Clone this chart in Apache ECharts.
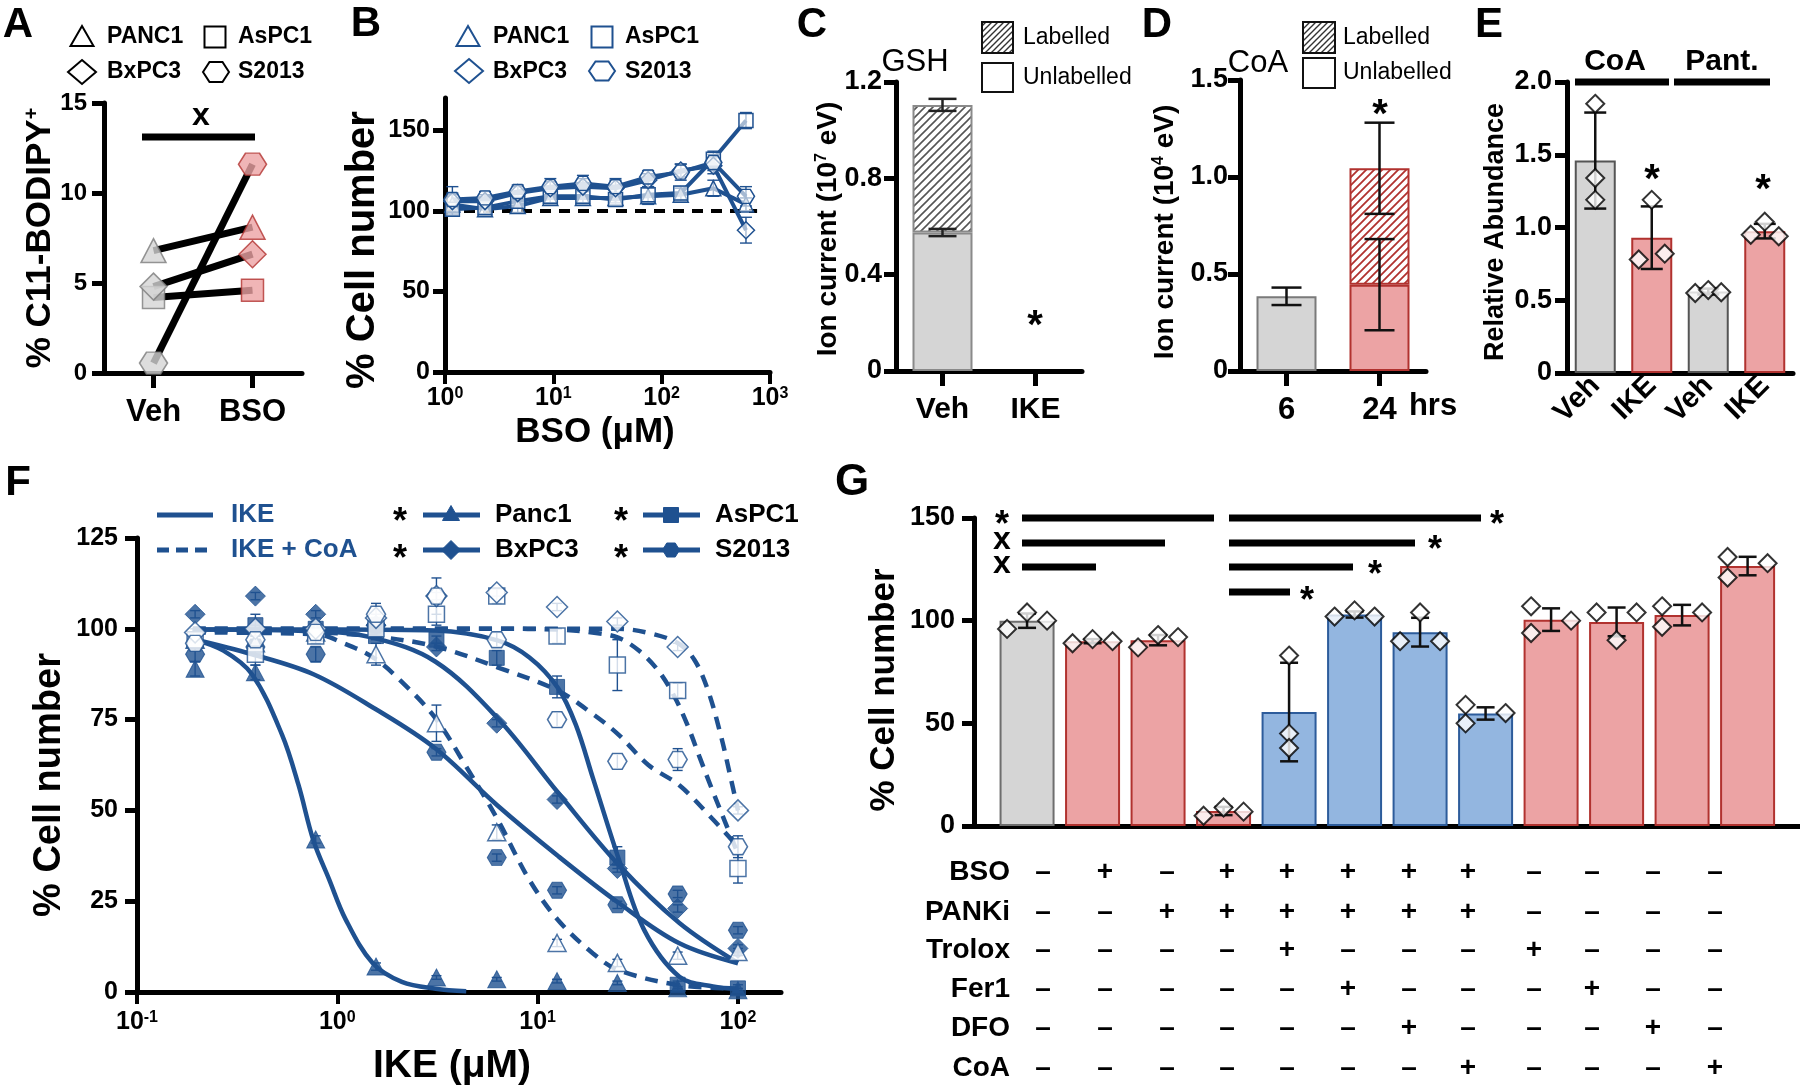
<!DOCTYPE html>
<html><head><meta charset="utf-8">
<script src="https://cdn.jsdelivr.net/npm/echarts@6/dist/echarts.min.js"></script>
<style>html,body{margin:0;padding:0;background:#fff}#c{width:1800px;height:1088px}</style>
</head><body><div id="c"></div>
<script>
// ================= DATA =================
// Panel A: % C11-BODIPY+
const aConditions = ['Veh', 'BSO'];
const aPANC1 = [6.8, 8.1];
const aAsPC1 = [4.2, 4.6];
const aBxPC3 = [4.8, 6.6];
const aS2013 = [0.55, 11.6];

// Panel B: % cell number vs BSO (uM)
const bBSO = [1.17, 2.34, 4.69, 9.38, 18.75, 37.5, 75, 150, 300, 600];
const bPANC1 = [104, 101, 103, 108, 108, 108, 109, 110, 114, 104];
const bAsPC1 = [101, 102, 106, 109, 109, 107, 110, 111, 132, 156];
const bBxPC3 = [106, 106, 111, 114, 115, 114, 119, 125, 128, 88];
const bS2013 = [107, 108, 112, 115, 117, 115, 121, 124, 130, 109];
const bPANC1Err = [6, 4, 4, 4, 4, 3, 5, 4, 5, 4];
const bAsPC1Err = [4, 4, 3, 4, 4, 3, 5, 4, 5, 5];
const bBxPC3Err = [5, 4, 4, 4, 5, 5, 4, 4, 5, 8];
const bS2013Err = [8, 4, 4, 5, 5, 5, 4, 5, 5, 6];

// Panel C: GSH ion current (1e7 eV)
const cGroups = ['Veh', 'IKE'];
const cUnlabelled = [0.575, 0];
const cLabelled = [0.53, 0];
const cUnlabErr = [0.015, 0];
const cTotalErr = [0.025, 0];

// Panel D: CoA ion current (1e4 eV)
const dTimes = ['6', '24'];
const dUnlabelled = [0.385, 0.445];
const dLabelled = [0, 0.6];
const dUnlabErr = [0.045, 0.235];
const dTotalErr = [0, 0.235];

// Panel E: relative abundance
const eGroups = ['Veh|CoA', 'IKE|CoA', 'Veh|Pant.', 'IKE|Pant.'];
const eMeans = [1.46, 0.93, 0.56, 0.975];
const eSD = [0.33, 0.215, 0.02, 0.05];
const eRep1 = [1.85, 1.19, 0.55, 1.04];
const eRep2 = [1.34, 0.78, 0.57, 0.95];
const eRep3 = [1.19, 0.82, 0.555, 0.94];

// Panel F: % cell number vs IKE (uM)
const fIKE = [0.195, 0.39, 0.78, 1.56, 3.125, 6.25, 12.5, 25, 50, 100];
const fPanc1 = [89, 88, 42, 7, 4, 3.5, 3, 2.5, 1, 0.5];
const fAsPC1 = [97, 101, 100, 98, 97, 92, 84, 37, 2, 1];
const fBxPC3 = [104, 109, 104, 101, 95, 74, 53, 34, 23, 12];
const fS2013 = [93, 95, 93, 101, 66, 37, 28, 24, 27, 17];
const fPanc1CoA = [97, 96, 99, 93, 74, 44, 13.5, 8, 10, 11];
const fAsPC1CoA = [97, 93, 98, 100, 104, 109, 98, 90, 83, 34];
const fBxPC3CoA = [99, 100, 100, 103, 109, 110, 106, 102, 95, 50];
const fS2013CoA = [96, 97, 99, 104, 109, 97, 75, 63.5, 64, 40];
const fPanc1Err = [2, 2, 1, 1, 0.5, 0.5, 0.5, 0.5, 0.5, 0.5];
const fAsPC1Err = [2, 3, 2, 1, 1, 2, 3, 3, 1, 1];
const fBxPC3Err = [1, 1, 1, 1, 1, 1, 1, 1, 1, 1];
const fS2013Err = [2, 2, 2, 1, 1, 1, 1, 1, 1, 1];
const fPanc1CoAErr = [2, 2, 1, 3, 5, 2, 1, 1, 1, 1];
const fAsPC1CoAErr = [2, 3, 2, 2, 3, 2, 2, 7, 2, 4];
const fBxPC3CoAErr = [1, 1, 1, 1, 1, 1, 1, 1, 1, 1];
const fS2013CoAErr = [2, 2, 2, 3, 5, 2, 2, 2, 3, 3];
// fitted curves as [IKE uM, %]
const fCurvePanc1 = [[0.19,97.2],[0.27,94],[0.375,87.5],[0.53,70.8],[0.64,57],[0.76,41.7],[0.91,31],[1.1,20],[1.5,8],[2.1,2.8],[3.1,0.9],[4.4,0.2]];
const fCurveAsPC1 = [[0.19,99.8],[1,99.8],[3.1,99.5],[6.3,96.8],[9.1,92.1],[12.6,83.8],[15.5,73.6],[18.9,58.8],[25.4,36.6],[34,17.1],[51,4.2],[75,1.5],[100,0.9]];
const fCurveBxPC3 = [[0.19,99.8],[0.78,99.3],[1.52,97.5],[3.08,91],[6.28,75.5],[12.6,55],[25.4,35],[51,19],[100,8]];
const fCurveS2013 = [[0.19,97.2],[0.375,93],[0.76,87.5],[1.52,78.2],[3.08,67.1],[6.28,51.4],[12.6,37.5],[25.4,24.5],[51,13.4],[100,7.9]];
const fCurvePanc1CoA = [[0.19,99],[0.78,98.5],[1.1,95.8],[1.52,92],[2.08,85.6],[3.08,75.5],[4.35,62.5],[6.28,47.7],[9.06,31],[12.6,19.9],[18.9,10.6],[25.4,6],[51,1.9],[100,0.9]];
const fCurveAsPC1CoA = [[0.19,100],[6.3,100],[12.6,99.8],[20,98.8],[25.4,97.5],[32,94],[40,88.5],[48,81.5],[56,73.5],[64,65],[74,56],[86,47],[100,38]];
const fCurveBxPC3CoA = [[0.19,100],[25,100],[37.5,98.6],[51,95.8],[61,91.2],[71,82.9],[82,70.8],[90.6,60.6],[100,50]];
const fCurveS2013CoA = [[0.19,99.5],[0.78,99],[1.6,97.8],[3.16,95],[6.3,89.4],[12.6,83],[18.9,76.5],[25.4,70.8],[35.7,62.5],[51,56.9],[74.5,47.7],[100,40]];

// Panel G: % cell number, 12 conditions
const gMeans = [100, 90, 90.5, 7.3, 55.5, 103, 94.4, 54.8, 100.5, 99.4, 102.7, 126.6];
const gSD = [3.5, 1, 2.5, 2, 24, 1.5, 7, 3, 5.5, 7, 5, 4.5];
const gRep1 = [96, 89, 87, 5, 83, 102, 90, 59, 107, 104, 107, 131];
const gRep2 = [104, 91, 93, 9, 45, 105, 104, 50, 94, 90.5, 97, 121];
const gRep3 = [100, 90, 92, 7, 38, 102, 90, 55, 100, 104, 104, 128];
const gRowNames = ['BSO', 'PANKi', 'Trolox', 'Fer1', 'DFO', 'CoA'];
const gBSO    = [0,1,0,1,1,1,1,1,0,0,0,0];
const gPANKi  = [0,0,1,1,1,1,1,1,0,0,0,0];
const gTrolox = [0,0,0,0,1,0,0,0,1,0,0,0];
const gFer1   = [0,0,0,0,0,1,0,0,0,1,0,0];
const gDFO    = [0,0,0,0,0,0,1,0,0,0,1,0];
const gCoA    = [0,0,0,0,0,0,0,1,0,0,0,1];

// ================= STYLE =================
const FONT = '"Liberation Sans", Arial, Helvetica, sans-serif';
const NARROW = '"Liberation Sans Narrow", "Liberation Sans", Arial, sans-serif';
const BLUE = '#1f5190';
const GREY_FILL = '#d5d5d5', GREY_EDGE = '#7c7c7c';
const PINK_FILL = '#eca3a4', PINK_EDGE = '#b1322f';
const LB_FILL = '#93b6e0', LB_EDGE = '#2d5c9b';
const HEX = 'path://M0,5 L2.5,0.67 L7.5,0.67 L10,5 L7.5,9.33 L2.5,9.33 Z';
const SYM = {PANC1:'triangle', AsPC1:'rect', BxPC3:'diamond', S2013:HEX};

function makeHatch(color, s, lw) {
  const c = document.createElement('canvas'); c.width = c.height = s;
  const x = c.getContext('2d'); x.fillStyle = '#fff'; x.fillRect(0,0,s,s);
  x.strokeStyle = color; x.lineWidth = lw; x.beginPath();
  x.moveTo(0,s); x.lineTo(s,0);
  x.moveTo(-s/2,s/2); x.lineTo(s/2,-s/2);
  x.moveTo(s/2,s*1.5); x.lineTo(s*1.5,s/2);
  x.stroke(); return c;
}
const hatchGrey = {image: makeHatch('#555', 8, 1.6), repeat: 'repeat'};
const hatchRed = {image: makeHatch('#b1322f', 8, 1.8), repeat: 'repeat'};
const hatchBlack = {image: makeHatch('#333', 6, 1.4), repeat: 'repeat'};

const series = [];
function errSeries(xi, yi, data, color, lw, capW, z) {
  return {type:'custom', xAxisIndex:xi, yAxisIndex:yi, z: z || 6, silent:true,
    data: data.filter(d => d[2] > 0),
    renderItem(params, api) {
      const x = api.value(0), y = api.value(1), e = api.value(2);
      const lo = api.coord([x, y - e]), hi = api.coord([x, y + e]);
      const cx = lo[0], st = {stroke: color, lineWidth: lw};
      return {type:'group', children:[
        {type:'line', shape:{x1:cx, y1:lo[1], x2:cx, y2:hi[1]}, style:st},
        {type:'line', shape:{x1:cx-capW/2, y1:lo[1], x2:cx+capW/2, y2:lo[1]}, style:st},
        {type:'line', shape:{x1:cx-capW/2, y1:hi[1], x2:cx+capW/2, y2:hi[1]}, style:st}]};
    }};
}

// ---------- Panel A series ----------
const aSets = [['PANC1', aPANC1], ['AsPC1', aAsPC1], ['BxPC3', aBxPC3], ['S2013', aS2013]];
const aSize = {PANC1:[25,24], AsPC1:[22,22], BxPC3:[27,27], S2013:[28,22]};
aSets.forEach(([n, v]) => series.push({type:'line', name:n, xAxisIndex:0, yAxisIndex:0, silent:true,
  data: aConditions.map((c,i) => [c, v[i]]), showSymbol:false, lineStyle:{color:'#000', width:7}, z:2}));
aSets.forEach(([n, v]) => series.push({type:'scatter', name:n, xAxisIndex:0, yAxisIndex:0, symbol:SYM[n], symbolSize:aSize[n], z:3,
  data: aConditions.map((c,i) => ({value:[c, v[i]], itemStyle: i === 0 ?
    {color:GREY_FILL, borderColor:GREY_EDGE, borderWidth:1.5} : {color:PINK_FILL, borderColor:PINK_EDGE, borderWidth:1.5}}))}));

// ---------- Panel B series ----------
const bSets = [['PANC1', bPANC1, bPANC1Err], ['AsPC1', bAsPC1, bAsPC1Err], ['BxPC3', bBxPC3, bBxPC3Err], ['S2013', bS2013, bS2013Err]];
const bSize = {PANC1:[15,15], AsPC1:[14,14], BxPC3:[17,17], S2013:[17,14]};
bSets.forEach(([n, v, e], k) => {
  series.push(errSeries(1, 1, bBSO.map((x,i) => [x, v[i], e[i]]), BLUE, 1.4, 12, 3));
  const s = {type:'line', name:n, xAxisIndex:1, yAxisIndex:1, data: bBSO.map((x,i) => [x, v[i]]),
    symbol:SYM[n], symbolSize:bSize[n], showSymbol:true, lineStyle:{color:BLUE, width:4},
    itemStyle:{color:'rgba(255,255,255,0.6)', borderColor:BLUE, borderWidth:1.5}, z:4};
  if (k === 0) s.markLine = {symbol:'none', silent:true, label:{show:false}, z:2,
    lineStyle:{type:[11,8], color:'#000', width:4}, data:[[{coord:[1,100]},{coord:[760,100]}]]};
  series.push(s);
});

// ---------- Panel C series ----------
series.push({type:'bar', name:'Unlabelled', xAxisIndex:2, yAxisIndex:2, stack:'c', barWidth:60,
  data: cUnlabelled.map(v => ({value:v, itemStyle:{color:GREY_FILL, borderColor:'#8a8a8a', borderWidth: v > 0 ? 2 : 0}}))});
series.push({type:'bar', name:'Labelled', xAxisIndex:2, yAxisIndex:2, stack:'c', barWidth:60,
  data: cLabelled.map(v => ({value:v, itemStyle:{color:hatchGrey, borderColor:'#8a8a8a', borderWidth: v > 0 ? 2 : 0}}))});
series.push(errSeries(2, 2, cGroups.map((g,i) => [i, cUnlabelled[i], cUnlabErr[i]]), '#222', 2.5, 28));
series.push(errSeries(2, 2, cGroups.map((g,i) => [i, cUnlabelled[i] + cLabelled[i], cTotalErr[i]]), '#222', 2.5, 28));

// ---------- Panel D series ----------
series.push({type:'bar', name:'Unlabelled D', xAxisIndex:3, yAxisIndex:3, stack:'d', barWidth:60,
  data: dUnlabelled.map((v,i) => ({value:v, itemStyle: i === 0 ?
    {color:GREY_FILL, borderColor:'#7a7a7a', borderWidth:2} : {color:PINK_FILL, borderColor:PINK_EDGE, borderWidth:2}}))});
series.push({type:'bar', name:'Labelled D', xAxisIndex:3, yAxisIndex:3, stack:'d', barWidth:60,
  data: dLabelled.map(v => ({value:v, itemStyle:{color:hatchRed, borderColor:PINK_EDGE, borderWidth: v > 0 ? 2 : 0}}))});
series.push(errSeries(3, 3, dTimes.map((t,i) => [i, dUnlabelled[i], dUnlabErr[i]]), '#111', 2.5, 30));
series.push(errSeries(3, 3, dTimes.map((t,i) => [i, dUnlabelled[i] + dLabelled[i], dTotalErr[i]]), '#111', 2.5, 30));

// ---------- Panel E series ----------
const eKind = ['veh', 'ike', 'veh', 'ike'];
series.push({type:'bar', xAxisIndex:4, yAxisIndex:4, barWidth:41,
  data: eMeans.map((v,i) => ({value:v, itemStyle: eKind[i] === 'veh' ?
    {color:GREY_FILL, borderColor:'#555', borderWidth:2} : {color:PINK_FILL, borderColor:PINK_EDGE, borderWidth:2}}))});
series.push(errSeries(4, 4, eMeans.map((v,i) => [i, v, eSD[i]]), '#111', 2.5, 22, 7));
const eJit = [[0,0,0],[0,-13,13],[-13,0,13],[0,-14,14]];
[eRep1, eRep2, eRep3].forEach((rep, r) => series.push({type:'scatter', xAxisIndex:4, yAxisIndex:4, symbol:'diamond', symbolSize:18, z:8,
  itemStyle:{color:'#fff', borderColor:'#000', borderWidth:2},
  data: rep.map((v,i) => ({value:[i, v], symbolOffset:[eJit[i][r], 0]}))}));

// ---------- Panel F series ----------
const fSets = [
  ['Panc1', fPanc1, fPanc1Err, fCurvePanc1, 'triangle', [18,17], true],
  ['AsPC1', fAsPC1, fAsPC1Err, fCurveAsPC1, 'rect', [15,15], true],
  ['BxPC3', fBxPC3, fBxPC3Err, fCurveBxPC3, 'diamond', [20,20], true],
  ['S2013', fS2013, fS2013Err, fCurveS2013, HEX, [19,16], true],
  ['Panc1 + CoA', fPanc1CoA, fPanc1CoAErr, fCurvePanc1CoA, 'triangle', [18,17], false],
  ['AsPC1 + CoA', fAsPC1CoA, fAsPC1CoAErr, fCurveAsPC1CoA, 'rect', [16,16], false],
  ['BxPC3 + CoA', fBxPC3CoA, fBxPC3CoAErr, fCurveBxPC3CoA, 'diamond', [21,21], false],
  ['S2013 + CoA', fS2013CoA, fS2013CoAErr, fCurveS2013CoA, HEX, [19,16], false]];
fSets.forEach(([n, v, e, curve, sym, size, filled]) => {
  series.push({type:'line', name:n + ' fit', xAxisIndex:5, yAxisIndex:5, data:curve, showSymbol:false, smooth:0.35, silent:true,
    lineStyle:{color:BLUE, width:4.5, type: filled ? 'solid' : [13,9]}, z:3});
});
fSets.forEach(([n, v, e, curve, sym, size, filled]) => {
  series.push(errSeries(5, 5, fIKE.map((x,i) => [x, v[i], e[i]]), BLUE, 1.4, 10, 4));
  series.push({type:'scatter', name:n, xAxisIndex:5, yAxisIndex:5, symbol:sym, symbolSize:size, z:5,
    itemStyle: filled ? {color:BLUE, borderColor:BLUE, borderWidth:1} : {color:'#fff', borderColor:BLUE, borderWidth:1.5},
    data: fIKE.map((x,i) => [x, v[i]])});
});

// ---------- Panel G series ----------
const gKind = ['veh','bso','bso','bso','res','res','res','res','bso','bso','bso','bso'];
const gStyle = {veh:{color:GREY_FILL, borderColor:'#6e6e6e', borderWidth:2},
  bso:{color:PINK_FILL, borderColor:PINK_EDGE, borderWidth:2}, res:{color:LB_FILL, borderColor:LB_EDGE, borderWidth:2}};
series.push({type:'bar', xAxisIndex:6, yAxisIndex:6, barWidth:55,
  data: gMeans.map((v,i) => ({value:[i+1, v], itemStyle:gStyle[gKind[i]]}))});
series.push(errSeries(6, 6, gMeans.map((v,i) => [i+1, v, gSD[i]]), '#111', 2.5, 18, 7));
const gJit = [[-20,0,20],[-20,0,20],[-20,0,20],[-20,0,20],[0,0,0],[-20,0,20],[-20,0,20],[-20,-20,20],[-20,-20,20],[-20,0,20],[-20,-20,20],[-20,-20,20]];
[gRep1, gRep2, gRep3].forEach((rep, r) => series.push({type:'scatter', xAxisIndex:6, yAxisIndex:6, symbol:'diamond', symbolSize:18, z:8,
  itemStyle:{color:'#fff', borderColor:'#000', borderWidth:2},
  data: rep.map((v,i) => ({value:[i+1, v], symbolOffset:[gJit[i][r], 0]}))}));

// ================= AXES =================
const LINE = {show:true, onZero:false, lineStyle:{color:'#000', width:5}};
const TICK = {show:true, length:12, lineStyle:{color:'#000', width:5}};
function yAx(gi, min, max, interval, fs, margin, fmt, custom) {
  const ax = {type:'value', gridIndex:gi, min, max, interval, axisLine:LINE,
    axisTick: Object.assign({}, TICK), splitLine:{show:false},
    axisLabel:{fontFamily:FONT, fontWeight:'bold', fontSize:fs, color:'#000', margin, formatter:fmt}};
  if (custom) { ax.axisTick.customValues = custom; ax.axisLabel.customValues = custom; }
  return ax;
}
function catAx(gi, data, fs, margin, tick) {
  return {type:'category', gridIndex:gi, data, boundaryGap:true, axisLine:LINE,
    axisTick: tick ? {show:true, alignWithLabel:true, length:15, lineStyle:{color:'#000', width:5}} : {show:false},
    axisLabel:{fontFamily:FONT, fontWeight:'bold', fontSize:fs, color:'#000', margin}, splitLine:{show:false}};
}
function logLab(v) {
  const e = Math.log10(v), r = Math.round(e);
  if (Math.abs(e - r) > 1e-6) return '';
  return '{b|10}{s|' + (r < 0 ? '-' : '') + Math.abs(r) + '}';
}
const LOGRICH = {b:{fontFamily:FONT, fontWeight:'bold', fontSize:25, color:'#000'},
                 s:{fontFamily:FONT, fontWeight:'bold', fontSize:16, color:'#000', verticalAlign:'top', padding:[0,0,8,0]}};
const dec1 = v => v === 0 ? '0' : v.toFixed(1);

const grid = [
  {left:104, top:103, width:198, height:270},
  {left:445, top:98, width:325, height:274},
  {left:896, top:82, width:186, height:289},
  {left:1240, top:80, width:186, height:291},
  {left:1567, top:82, width:226, height:291},
  {left:137, top:538, width:644, height:454},
  {left:974, top:518, width:826, height:308}];

const xAxis = [
  catAx(0, aConditions, 31, 24, true),
  {type:'log', gridIndex:1, logBase:10, min:1, max:1000, axisLine:LINE, axisTick:{show:true, length:12, lineStyle:{color:'#000', width:4}},
   splitLine:{show:false}, axisLabel:{formatter:logLab, rich:LOGRICH, margin:14}},
  catAx(2, cGroups, 30, 24, true),
  catAx(3, dTimes, 31, 24, true),
  Object.assign(catAx(4, eGroups, 29, 8, false), {axisLabel:{fontFamily:FONT, fontWeight:'bold', fontSize:29, color:'#000', margin:8, rotate:45, formatter: v => v.split('|')[0]}}),
  {type:'log', gridIndex:5, logBase:10, min:0.1, max:164, axisLine:LINE, axisTick:{show:true, length:12, lineStyle:{color:'#000', width:4}},
   splitLine:{show:false}, axisLabel:{formatter:logLab, rich:LOGRICH, margin:18, showMaxLabel:false}},
  {type:'value', gridIndex:6, min:0.19, max:12.8, axisLine:LINE, axisTick:{show:false}, axisLabel:{show:false}, splitLine:{show:false}}];

const yAxis = [
  yAx(0, 0, 15, 5, 24, 17),
  yAx(1, 0, 170, 50, 25, 15, null, [0, 50, 100, 150]),
  yAx(2, 0, 1.2, 0.4, 27, 14, dec1),
  yAx(3, 0, 1.5, 0.5, 27, 12, dec1),
  yAx(4, 0, 2.0, 0.5, 27, 15, dec1),
  yAx(5, 0, 125, 25, 25, 19),
  yAx(6, 0, 150, 50, 27, 19)];

// ================= ANNOTATIONS (text / legends) =================
const GR = [];
function T(x, y, text, size, o) {
  o = o || {};
  const st = {text, fill:o.color || '#000', fontSize:size, fontWeight:o.weight || 'bold', fontFamily:o.family || FONT,
    align:o.align || 'center', textAlign:o.align || 'center', verticalAlign:'middle', textVerticalAlign:'middle'};
  if (o.rich) st.rich = o.rich;
  GR.push({type:'text', x, y, rotation:o.rot || 0, z:100, style:st});
}
function STAR(x, y, size) { T(x, y + 0.23 * size, '*', size); }
function L(x1, y1, x2, y2, w, color, dash) {
  GR.push({type:'line', z:100, shape:{x1, y1, x2, y2}, style:{stroke:color || '#000', lineWidth:w, lineDash:dash || null}});
}
function SYMG(kind, cx, cy, w, h, fill, stroke, lw) {
  let p;
  if (kind === 'triangle') p = [[cx,cy-h/2],[cx+w/2,cy+h/2],[cx-w/2,cy+h/2]];
  else if (kind === 'diamond') p = [[cx,cy-h/2],[cx+w/2,cy],[cx,cy+h/2],[cx-w/2,cy]];
  else if (kind === 'rect') p = [[cx-w/2,cy-h/2],[cx+w/2,cy-h/2],[cx+w/2,cy+h/2],[cx-w/2,cy+h/2]];
  else p = [[cx-w/2,cy],[cx-w/4,cy-h/2],[cx+w/4,cy-h/2],[cx+w/2,cy],[cx+w/4,cy+h/2],[cx-w/4,cy+h/2]];
  GR.push({type:'polygon', z:100, shape:{points:p}, style:{fill, stroke, lineWidth:lw}});
}
function BOX(x, y, w, h, fill) { GR.push({type:'rect', z:100, shape:{x, y, width:w, height:h}, style:{fill, stroke:'#111', lineWidth:2}}); }
const SUP = fs => ({s:{fontFamily:FONT, fontWeight:'bold', fontSize:fs, verticalAlign:'top', fill:'#000'}});

// panel letters
T(18, 25, 'A', 42); T(366, 24, 'B', 42); T(812, 25, 'C', 42); T(1157, 25, 'D', 42); T(1489, 25, 'E', 42);
T(18, 483, 'F', 42); T(852, 483, 'G', 44);

// A
SYMG('triangle', 82, 36, 23, 20, '#fff', '#000', 2); T(107, 37, 'PANC1', 23, {align:'left'});
SYMG('rect', 215, 37, 21, 21, '#fff', '#000', 2); T(238, 37, 'AsPC1', 23, {align:'left'});
SYMG('diamond', 82, 72, 28, 24, '#fff', '#000', 2); T(107, 72, 'BxPC3', 23, {align:'left'});
SYMG('hex', 216, 72, 26, 20, '#fff', '#000', 2); T(238, 72, 'S2013', 23, {align:'left'});
T(40, 238, '% C11-BODIPY{s|+}', 35, {rot:Math.PI/2, rich:SUP(20)});
L(142, 137, 255, 137, 7); T(201, 116, 'x', 32);

// B
SYMG('triangle', 468, 36, 23, 20, '#fff', BLUE, 2); T(493, 37, 'PANC1', 23, {align:'left'});
SYMG('rect', 602, 37, 21, 21, '#fff', BLUE, 2); T(625, 37, 'AsPC1', 23, {align:'left'});
SYMG('diamond', 469, 71, 28, 24, '#fff', BLUE, 2); T(493, 72, 'BxPC3', 23, {align:'left'});
SYMG('hex', 602, 71, 26, 19, '#fff', BLUE, 2); T(625, 72, 'S2013', 23, {align:'left'});
T(363, 250, '% Cell number', 40, {rot:Math.PI/2});
T(595, 432, 'BSO (μM)', 35);

// C
T(915, 62, 'GSH', 31, {weight:'normal', family:NARROW});
BOX(982, 22, 31, 31, hatchBlack); T(1023, 38, 'Labelled', 23, {align:'left', weight:'normal', family:NARROW});
BOX(982, 63, 31, 29, '#fff'); T(1023, 78, 'Unlabelled', 23, {align:'left', weight:'normal', family:NARROW});
T(828, 229, 'Ion current (10{s|7} eV)', 28, {rot:Math.PI/2, rich:SUP(16)});
STAR(1035, 318, 40);

// D
T(1258, 63, 'CoA', 31, {weight:'normal', family:NARROW});
BOX(1303, 22, 32, 31, hatchBlack); T(1343, 38, 'Labelled', 23, {align:'left', weight:'normal', family:NARROW});
BOX(1303, 58, 32, 30, '#fff'); T(1343, 73, 'Unlabelled', 23, {align:'left', weight:'normal', family:NARROW});
T(1165, 232, 'Ion current (10{s|4} eV)', 28, {rot:Math.PI/2, rich:SUP(16)});
T(1433, 406, 'hrs', 31);
STAR(1380, 107, 40);

// E
T(1496, 232, 'Relative Abundance', 27, {rot:Math.PI/2});
L(1575, 82, 1669, 82, 7); L(1674, 82, 1770, 82, 7);
T(1615, 62, 'CoA', 30); T(1722, 62, 'Pant.', 30);
STAR(1652, 172, 40); STAR(1763, 182, 40);

// F
L(157, 515, 213, 515, 5, BLUE); T(231, 515, 'IKE', 26, {align:'left', color:BLUE});
L(157, 550, 213, 550, 5, BLUE, [12, 7]); T(231, 550, 'IKE + CoA', 26, {align:'left', color:BLUE});
STAR(400, 515, 36); L(423, 515, 480, 515, 5, BLUE); SYMG('triangle', 451, 513, 17, 15, BLUE, BLUE, 1); T(495, 515, 'Panc1', 26, {align:'left'});
STAR(621, 515, 36); L(643, 515, 700, 515, 5, BLUE); SYMG('rect', 671, 515, 15, 15, BLUE, BLUE, 1); T(715, 515, 'AsPC1', 26, {align:'left'});
STAR(400, 552, 36); L(423, 550, 480, 550, 5, BLUE); SYMG('diamond', 451, 550, 19, 19, BLUE, BLUE, 1); T(495, 550, 'BxPC3', 26, {align:'left'});
STAR(621, 552, 36); L(643, 550, 700, 550, 5, BLUE); SYMG('hex', 671, 550, 17, 14, BLUE, BLUE, 1); T(715, 550, 'S2013', 26, {align:'left'});
T(50, 785, '% Cell number', 38, {rot:Math.PI/2});
T(452, 1066, 'IKE (μM)', 39);

// G
T(884, 690, '% Cell number', 35, {rot:Math.PI/2});
STAR(1002, 518, 36); L(1022, 518, 1214, 518, 7);
T(1002, 540, 'x', 32); L(1022, 543, 1165, 543, 7);
T(1002, 564, 'x', 32); L(1022, 567, 1096, 567, 7);
L(1229, 518, 1481, 518, 7); STAR(1497, 518, 36);
L(1229, 543, 1415, 543, 7); STAR(1435, 543, 36);
L(1229, 567, 1353, 567, 7); STAR(1375, 568, 36);
L(1229, 592, 1290, 592, 7); STAR(1307, 594, 36);
const gCols = [1043, 1105, 1167, 1227, 1287, 1348, 1409, 1468, 1534, 1592, 1653, 1715];
const gRowY = [872, 912, 950, 989, 1028, 1068];
[gBSO, gPANKi, gTrolox, gFer1, gDFO, gCoA].forEach((row, r) => {
  T(1010, gRowY[r], gRowNames[r], 28, {align:'right'});
  row.forEach((f, c) => T(gCols[c], gRowY[r], f ? '+' : '–', 28));
});

const chart = echarts.init(document.getElementById('c'), null, {renderer:'canvas'});
chart.setOption({animation:false, backgroundColor:'#fff', grid, xAxis, yAxis, series, graphic:{elements:GR}});
</script></body></html>
